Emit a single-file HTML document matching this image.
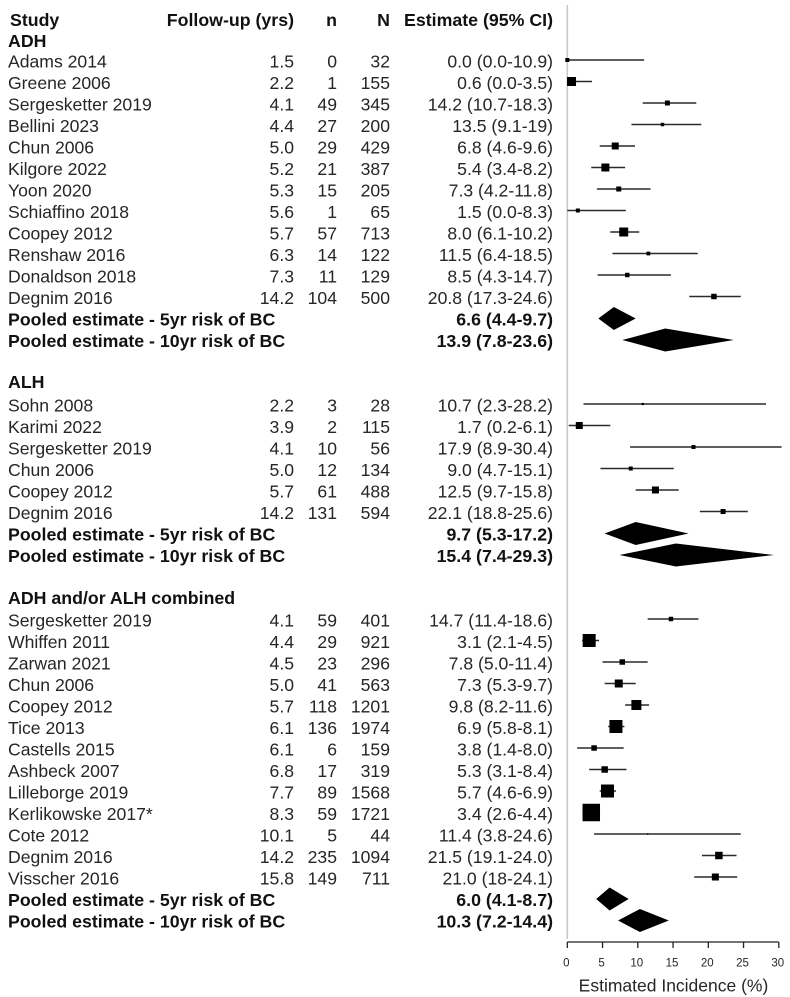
<!DOCTYPE html>
<html lang="en">
<head>
<meta charset="utf-8">
<title>Forest plot of estimated incidence</title>
<style>
  html, body { margin: 0; padding: 0; background: #fff; }
  #chart { display: block; width: 790px; height: 997px; }
  text { font-family: "Liberation Sans", Arial, sans-serif; font-size: 17.6px; fill: #262626; }
  .bold { font-weight: 700; fill: #111; font-size: 17.75px; }
  .end { text-anchor: end; }
</style>
</head>
<body>
<svg id="chart" xmlns="http://www.w3.org/2000/svg" width="790" height="997" viewBox="0 0 790 997">
  <rect width="790" height="997" fill="#fff"/>
  <g>
    <text class="bold" x="10" y="26">Study</text>
    <text class="bold end" x="294" y="26">Follow-up (yrs)</text>
    <text class="bold end" x="337" y="26">n</text>
    <text class="bold end" x="390" y="26">N</text>
    <text class="bold end" x="553" y="26">Estimate (95% CI)</text>
  </g>
  <line id="refLine" y1="5" y2="939" stroke="#c9c9c9" stroke-width="1.6"/>
  <g id="rows"></g>
  <g id="axis"></g>
  <text x="673.5" y="991.5" text-anchor="middle" style="font-size:17.5px">Estimated Incidence (%)</text>
</svg>
<script>
// ADH
const adhStudies = ["Adams 2014","Greene 2006","Sergesketter 2019","Bellini 2023","Chun 2006","Kilgore 2022","Yoon 2020","Schiaffino 2018","Coopey 2012","Renshaw 2016","Donaldson 2018","Degnim 2016"];
const adhFollowUp = ["1.5","2.2","4.1","4.4","5.0","5.2","5.3","5.6","5.7","6.3","7.3","14.2"];
const adhEvents = [0,1,49,27,29,21,15,1,57,14,11,104];
const adhTotals = [32,155,345,200,429,387,205,65,713,122,129,500];
const adhEstimates = [0.0,0.6,14.2,13.5,6.8,5.4,7.3,1.5,8.0,11.5,8.5,20.8];
const adhLow = [0.0,0.0,10.7,9.1,4.6,3.4,4.2,0.0,6.1,6.4,4.3,17.3];
const adhHigh = [10.9,3.5,18.3,19,9.6,8.2,11.8,8.3,10.2,18.5,14.7,24.6];
const adhLabels = ["0.0 (0.0-10.9)","0.6 (0.0-3.5)","14.2 (10.7-18.3)","13.5 (9.1-19)","6.8 (4.6-9.6)","5.4 (3.4-8.2)","7.3 (4.2-11.8)","1.5 (0.0-8.3)","8.0 (6.1-10.2)","11.5 (6.4-18.5)","8.5 (4.3-14.7)","20.8 (17.3-24.6)"];
const adhWeights = [16,81,25,12,49,64,25,16,81,14,20,30];
const adhPooledEstimates = [6.6,13.9];
const adhPooledLow = [4.4,7.8];
const adhPooledHigh = [9.7,23.6];
const adhPooledLabels = ["6.6 (4.4-9.7)","13.9 (7.8-23.6)"];

// ALH
const alhStudies = ["Sohn 2008","Karimi 2022","Sergesketter 2019","Chun 2006","Coopey 2012","Degnim 2016"];
const alhFollowUp = ["2.2","3.9","4.1","5.0","5.7","14.2"];
const alhEvents = [3,2,10,12,61,131];
const alhTotals = [28,115,56,134,488,594];
const alhEstimates = [10.7,1.7,17.9,9.0,12.5,22.1];
const alhLow = [2.3,0.2,8.9,4.7,9.7,18.8];
const alhHigh = [28.2,6.1,30.4,15.1,15.8,25.6];
const alhLabels = ["10.7 (2.3-28.2)","1.7 (0.2-6.1)","17.9 (8.9-30.4)","9.0 (4.7-15.1)","12.5 (9.7-15.8)","22.1 (18.8-25.6)"];
const alhWeights = [5,49,16,16,49,25];
const alhPooledEstimates = [9.7,15.4];
const alhPooledLow = [5.3,7.4];
const alhPooledHigh = [17.2,29.3];
const alhPooledLabels = ["9.7 (5.3-17.2)","15.4 (7.4-29.3)"];

// ADH and/or ALH combined
const comboStudies = ["Sergesketter 2019","Whiffen 2011","Zarwan 2021","Chun 2006","Coopey 2012","Tice 2013","Castells 2015","Ashbeck 2007","Lilleborge 2019","Kerlikowske 2017*","Cote 2012","Degnim 2016","Visscher 2016"];
const comboFollowUp = ["4.1","4.4","4.5","5.0","5.7","6.1","6.1","6.8","7.7","8.3","10.1","14.2","15.8"];
const comboEvents = [59,29,23,41,118,136,6,17,89,59,5,235,149];
const comboTotals = [401,921,296,563,1201,1974,159,319,1568,1721,44,1094,711];
const comboEstimates = [14.7,3.1,7.8,7.3,9.8,6.9,3.8,5.3,5.7,3.4,11.4,21.5,21.0];
const comboLow = [11.4,2.1,5.0,5.3,8.2,5.8,1.4,3.1,4.6,2.6,3.8,19.1,18];
const comboHigh = [18.6,4.5,11.4,9.7,11.6,8.1,8.0,8.4,6.9,4.4,24.6,24.0,24.1];
const comboLabels = ["14.7 (11.4-18.6)","3.1 (2.1-4.5)","7.8 (5.0-11.4)","7.3 (5.3-9.7)","9.8 (8.2-11.6)","6.9 (5.8-8.1)","3.8 (1.4-8.0)","5.3 (3.1-8.4)","5.7 (4.6-6.9)","3.4 (2.6-4.4)","11.4 (3.8-24.6)","21.5 (19.1-24.0)","21.0 (18-24.1)"];
const comboWeights = [20,169,30,64,100,169,30,42,169,306,2,56,49];
const comboPooledEstimates = [6.0,10.3];
const comboPooledLow = [4.1,7.2];
const comboPooledHigh = [8.7,14.4];
const comboPooledLabels = ["6.0 (4.1-8.7)","10.3 (7.2-14.4)"];

const pooledNames = ["Pooled estimate - 5yr risk of BC","Pooled estimate - 10yr risk of BC"];
const axisTicks = [0,5,10,15,20,25,30];

const NS = "http://www.w3.org/2000/svg";
const rowsG = document.getElementById("rows");
const axisG = document.getElementById("axis");

function xScale(v) { return 567.3 + v * 7.05; }
function yScale(row) { return 60 + (row - 2) * 21.5; }
function sideScale(w) { return Math.sqrt(w); }

function make(tag, attrs, parent) {
  const el = document.createElementNS(NS, tag);
  for (const k in attrs) el.setAttribute(k, attrs[k]);
  parent.appendChild(el);
  return el;
}
function label(parent, str, x, y, cls) {
  const t = make("text", { x: x, y: y, class: cls || "" }, parent);
  t.textContent = str;
  
  return t;
}

function drawStudies(g, startRow, names, fu, ev, tot, est, lo, hi, labels, wts) {
  names.forEach(function (name, i) {
    const y = yScale(startRow + i);
    const row = make("g", {}, g);
    
    
    label(row, name, 8, y + 7.5);
    label(row, fu[i], 294, y + 7.5, "end");
    label(row, ev[i], 337, y + 7.5, "end");
    label(row, tot[i], 390, y + 7.5, "end");
    label(row, labels[i], 553, y + 7.5, "end");
    const ci = make("line", { x1: xScale(lo[i]), x2: xScale(hi[i]), y1: y, y2: y, stroke: "#2a2a2a", "stroke-width": 1.6 }, row);
    
    
    const s = sideScale(wts[i]);
    const m = make("rect", { x: xScale(est[i]) - s / 2, y: y - s / 2, width: s, height: s, fill: "#000" }, row);
    
    
  });
}

function drawPooled(g, startRow, est, lo, hi, labels) {
  est.forEach(function (e, i) {
    const y = yScale(startRow + i);
    const row = make("g", {}, g);
    
    
    label(row, pooledNames[i], 8, y + 7.5, "bold");
    label(row, labels[i], 553, y + 7.5, "bold end");
    const h = 11.5;
    const cy = y + 0.5;
    const pts = [xScale(lo[i]) + "," + cy, xScale(e) + "," + (cy - h), xScale(hi[i]) + "," + cy, xScale(e) + "," + (cy + h)].join(" ");
    const d = make("polygon", { points: pts, fill: "#000" }, row);
    
    
  });
}

function drawGroup(title, titleRow, titleOffset, names, fu, ev, tot, est, lo, hi, labels, wts, pe, pl, ph, plabels) {
  const g = make("g", {}, rowsG);
  
  
  label(g, title, 8, yScale(titleRow) + titleOffset, "bold");
  drawStudies(g, titleRow + 1, names, fu, ev, tot, est, lo, hi, labels, wts);
  drawPooled(g, titleRow + 1 + names.length, pe, pl, ph, plabels);
}

document.getElementById("refLine").setAttribute("x1", xScale(0));
document.getElementById("refLine").setAttribute("x2", xScale(0));

drawGroup("ADH", 1, 8.5, adhStudies, adhFollowUp, adhEvents, adhTotals, adhEstimates, adhLow, adhHigh, adhLabels, adhWeights, adhPooledEstimates, adhPooledLow, adhPooledHigh, adhPooledLabels);
drawGroup("ALH", 17, 5.5, alhStudies, alhFollowUp, alhEvents, alhTotals, alhEstimates, alhLow, alhHigh, alhLabels, alhWeights, alhPooledEstimates, alhPooledLow, alhPooledHigh, alhPooledLabels);
drawGroup("ADH and/or ALH combined", 27, 6.5, comboStudies, comboFollowUp, comboEvents, comboTotals, comboEstimates, comboLow, comboHigh, comboLabels, comboWeights, comboPooledEstimates, comboPooledLow, comboPooledHigh, comboPooledLabels);

const axisLine = make("line", { x1: xScale(axisTicks[0]), x2: xScale(axisTicks[axisTicks.length - 1]), y1: 942, y2: 942, stroke: "#222", "stroke-width": 1.3 }, axisG);


axisTicks.forEach(function (t) {
  const tick = make("line", { x1: xScale(t), x2: xScale(t), y1: 942, y2: 948, stroke: "#222", "stroke-width": 1.3 }, axisG);
  
  
  const tl = label(axisG, String(t), xScale(t) - 1, 966.5);
  tl.setAttribute('text-anchor', 'middle');
  tl.setAttribute('style', 'font-size:11.5px');
  
});
</script>
</body>
</html>
